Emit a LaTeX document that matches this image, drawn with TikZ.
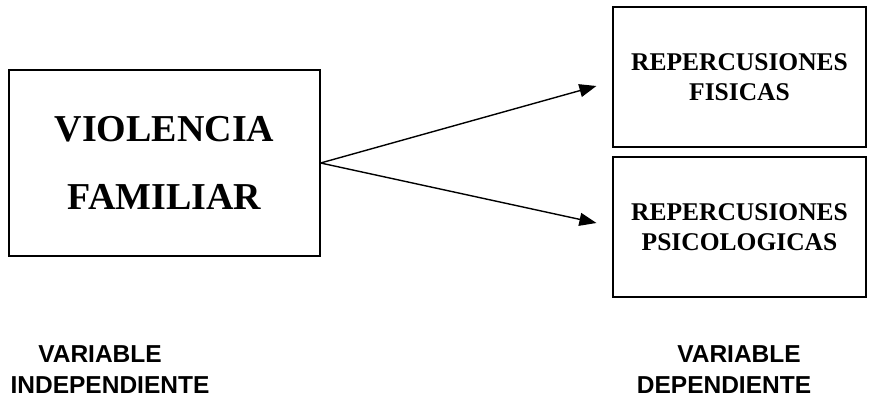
\documentclass[tikz,border=0pt]{standalone}
\usepackage{fontspec}
\setmainfont{Liberation Serif}
\setsansfont{Liberation Sans}
\usetikzlibrary{arrows.meta,positioning}

\def\bw{253pt}
\def\bh{140pt}

\begin{document}
\begin{tikzpicture}[x=1pt,y=-1pt,
    vbox/.style={draw,line width=1.2pt,inner sep=0pt,align=center,font=\bfseries},
    vlabel/.style={anchor=base,inner sep=0pt,font=\sffamily\bfseries\fontsize{24.5}{28}\selectfont},
    varrow/.style={-{Triangle[length=17pt,width=13pt]},line width=1.4pt}]
    \useasboundingbox (0,0) rectangle (869,403);

    \node[vbox,minimum width=311pt,minimum height=186pt,
          font=\bfseries\fontsize{38}{68}\selectfont] (vf) at (164.5,163) {VIOLENCIA\\FAMILIAR};
    \node[vbox,minimum width=\bw,minimum height=\bh,
          font=\bfseries\fontsize{25.5}{30}\selectfont] (rf) at (739.5,77) {REPERCUSIONES\\ FISICAS};
    \node[vbox,minimum width=\bw,minimum height=\bh,
          font=\bfseries\fontsize{25.5}{30}\selectfont] (rp) at (739.5,227) {REPERCUSIONES\\ PSICOLOGICAS};

    \coordinate (t1) at ([xshift=-16pt,yshift=-9pt]rf.west);
    \coordinate (t2) at ([xshift=-16pt,yshift=4pt]rp.west);
    \path[varrow,draw] (vf.east) -- (t1);
    \path[varrow,draw] (vf.east) -- (t2);

    \node[vlabel] (v1) at (100,362) {VARIABLE};
    \node[vlabel] (vi) at (110,393) {INDEPENDIENTE};
    \node[vlabel] (v2) at (739,362) {VARIABLE};
    \node[vlabel] (vd) at (724,393) {DEPENDIENTE};

  \end{tikzpicture}
\end{document}
